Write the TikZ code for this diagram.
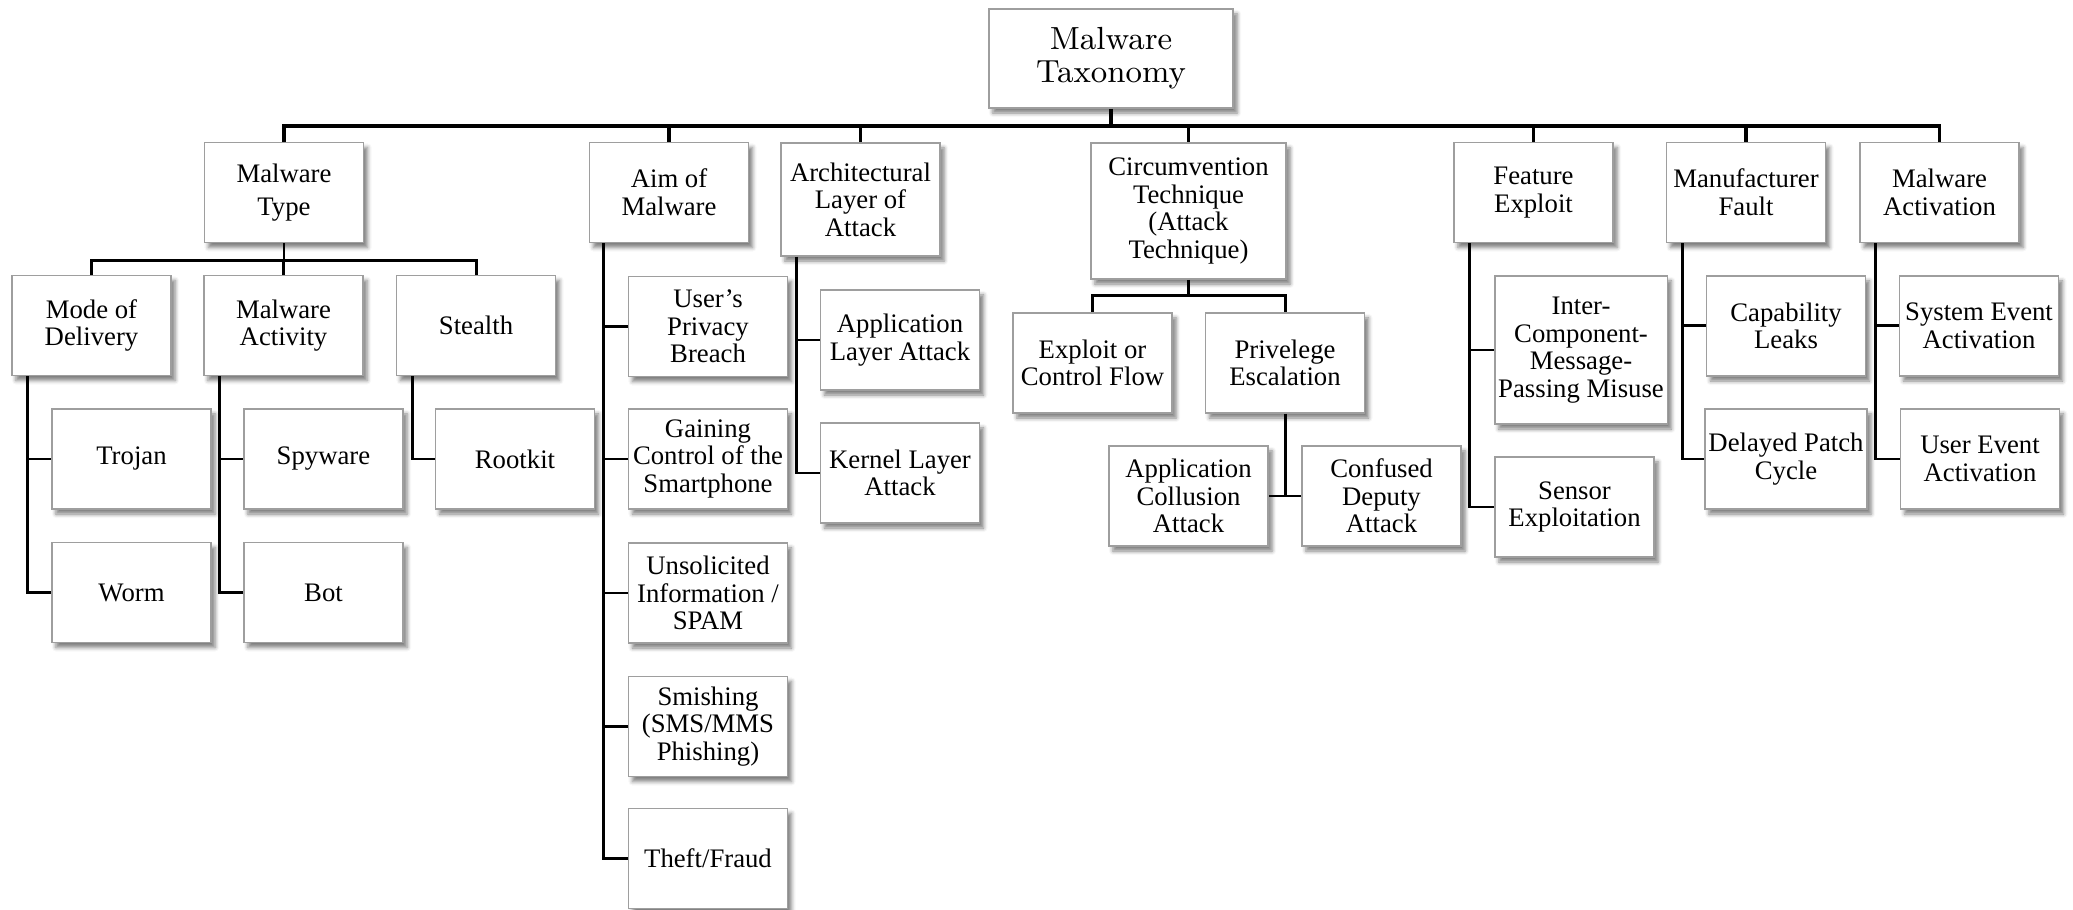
\documentclass[tikz,border=0pt]{standalone}
\usepackage{fontspec}
\setmainfont{Liberation Serif}
\newfontfamily\rootfont{Latin Modern Roman}
\usetikzlibrary{shadows.blur}
\tikzset{
  box/.style={draw=black!38, line width=0.45pt, fill=white, align=center, inner sep=1pt,
    minimum width=1.59cm, minimum height=1cm,
    font=\fontsize{7.6}{7.85}\selectfont,
    blur shadow={shadow xshift=0.04cm, shadow yshift=-0.05cm, shadow blur radius=0.04cm, shadow opacity=50}},
  link/.style={line width=0.85pt},
}

\begin{document}
\begin{tikzpicture}[x=0.01cm,y=-0.01cm]
  \useasboundingbox (0,0) rectangle (2073,910);
  % Root
  \node[box,minimum width=2.44cm,minimum height=0.99cm,font=\rootfont\fontsize{9.1}{9.4}\selectfont]
    (root) at (1111,58.5) {Malware\\Taxonomy};
  % First level
  \node[box] (type) at (284,192.5) {Malware\\[0.05cm]Type};
  \node[box] (aim) at (669,192.5) {Aim of\\Malware};
  \node[box,minimum height=1.13cm] (arch) at (860.5,199.5) {Architectural\\Layer of\\Attack};
  \node[box,minimum width=1.95cm,minimum height=1.36cm] (circ) at (1188.5,211) {Circumvention\\Technique\\(Attack\\Technique)};
  \node[box] (feat) at (1533.5,192.5) {Feature\\Exploit};
  \node[box] (manu) at (1746,192.5) {Manufacturer\\Fault};
  \node[box] (act) at (1939.5,192.5) {Malware\\Activation};
  % Malware type
  \node[box] (mode) at (91.5,325.5) {Mode of\\Delivery};
  \node[box] (mact) at (283.5,325.5) {Malware\\Activity};
  \node[box] (stealth) at (476,325.5) {Stealth};
  \node[box] (trojan) at (131.5,459) {Trojan};
  \node[box] (worm) at (131.5,592.5) {Worm};
  \node[box] (spyware) at (323.5,459) {Spyware};
  \node[box] (bot) at (323.5,592.5) {Bot};
  \node[box] (rootkit) at (515,459) {Rootkit};
  % Aim of malware
  \node[box] (privacy) at (708,326.5) {User’s\\Privacy\\Breach};
  \node[box] (control) at (708,459) {Gaining\\Control of the\\Smartphone};
  \node[box] (spam) at (708,593) {Unsolicited\\Information /\\SPAM};
  \node[box] (smish) at (708,726.5) {Smishing\\(SMS/MMS\\Phishing)};
  \node[box] (theft) at (708,858.5) {Theft/Fraud};
  % Architectural layer
  \node[box] (applayer) at (900,340) {Application\\Layer Attack};
  \node[box] (kernel) at (900,473) {Kernel Layer\\Attack};
  % Circumvention
  \node[box] (exploit) at (1092.5,363) {Exploit or\\Control Flow};
  \node[box] (priv) at (1285,363) {Privelege\\Escalation};
  \node[box] (collusion) at (1188.5,496) {Application\\Collusion\\Attack};
  \node[box] (deputy) at (1381.5,496) {Confused\\Deputy\\Attack};
  % Feature exploit
  \node[box,minimum width=1.72cm,minimum height=1.48cm] (icc) at (1581,350) {Inter-\\Component-\\Message-\\Passing Misuse};
  \node[box] (sensor) at (1574.5,507) {Sensor\\Exploitation};
  % Manufacturer fault
  \node[box] (leaks) at (1786,326) {Capability\\Leaks};
  \node[box] (patch) at (1786,459) {Delayed Patch\\Cycle};
  % Activation
  \node[box] (sysevent) at (1979,326) {System Event\\Activation};
  \node[box] (userevent) at (1980,459) {User Event\\Activation};

  % Connectors
  \draw[link,line width=1.05pt] (root.south) -- ++(0,17) coordinate (bus);
  \foreach \n in {type,aim,arch,circ,feat,manu,act}
    \draw[link,line width=1.05pt] (bus) -| (\n.north);
  \draw[link] (type.south) -- ++(0,17) coordinate (typebus);
  \foreach \n in {mode,mact,stealth}
    \draw[link] (typebus) -| (\n.north);
  \foreach \n in {trojan,worm}
    \draw[link] ([xshift=0.16cm]mode.south west) |- (\n.west);
  \foreach \n in {spyware,bot}
    \draw[link] ([xshift=0.16cm]mact.south west) |- (\n.west);
  \draw[link] ([xshift=0.17cm]stealth.south west) |- (rootkit.west);
  \foreach \n in {privacy,control,spam,smish,theft}
    \draw[link] ([xshift=0.15cm]aim.south west) |- (\n.west);
  \foreach \n in {applayer,kernel}
    \draw[link] ([xshift=0.16cm]arch.south west) |- (\n.west);
  \draw[link] (circ.south) -- ++(0,16) coordinate (circbus);
  \foreach \n in {exploit,priv}
    \draw[link] (circbus) -| (\n.north);
  \draw[link] (priv.south) |- (collusion.east);
  \draw[link] (priv.south) |- (deputy.west);
  \foreach \n in {icc,sensor}
    \draw[link] ([xshift=0.16cm]feat.south west) |- (\n.west);
  \foreach \n in {leaks,patch}
    \draw[link] ([xshift=0.17cm]manu.south west) |- (\n.west);
  \foreach \n in {sysevent,userevent}
    \draw[link] ([xshift=0.16cm]act.south west) |- (\n.west);
\end{tikzpicture}
\end{document}
